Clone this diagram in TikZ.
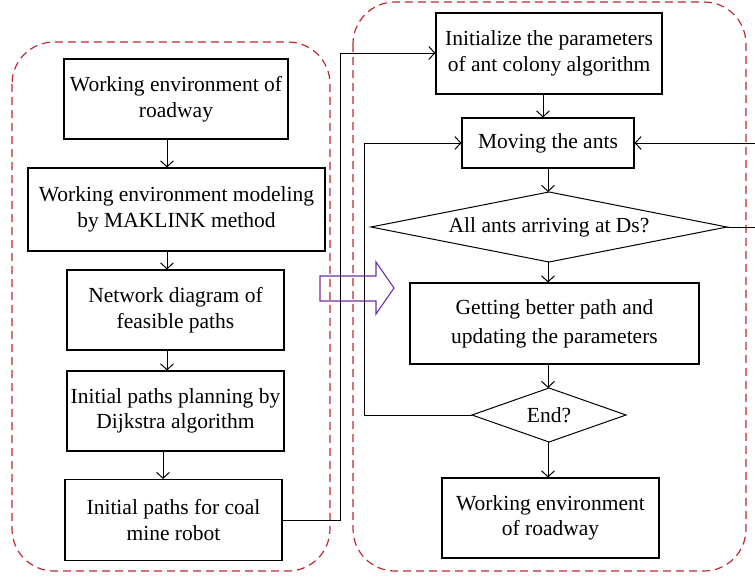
\documentclass[tikz,border=0pt]{standalone}
\usepackage{fontspec}
\setmainfont{Liberation Serif}
\usetikzlibrary{arrows.meta,shapes.geometric}
\definecolor{dashred}{RGB}{190,40,50}
\definecolor{arrpurple}{RGB}{112,48,160}
\begin{document}
\begin{tikzpicture}[x=1pt,y=-1pt,
  box/.style={draw, line width=1.1pt, align=center, inner sep=0pt, font=\fontsize{21.5}{25.5}\selectfont},
  txt/.style={inner sep=0pt, font=\fontsize{21.5}{25.5}\selectfont},
  arr/.style={line width=1pt, -{Straight Barb[length=6pt,width=13pt,line width=1pt]}},
  group/.style={draw=dashred, line width=1.2pt, dash pattern=on 8pt off 5pt, rounded corners=42pt}]
\useasboundingbox (0,0) rectangle (755,576);
\clip (0,0) rectangle (755,576);
% groups
\draw[group] (12,42) rectangle (330,571);
\draw[group] (353,2) rectangle (746,571);
% left nodes
\node[box, minimum width=224pt, minimum height=80pt] (L1) at (176,99) {Working environment of\\roadway};
\node[box, minimum width=297pt, minimum height=83pt] (L2) at (176.5,209.5) {Working environment modeling\\by MAKLINK method};
\node[box, minimum width=217pt, minimum height=80pt] (L3) at (175.5,310) {Network diagram of\\feasible paths};
\node[box, minimum width=217pt, minimum height=80pt] (L4) at (175.5,411) {Initial paths planning by\\Dijkstra algorithm};
\node[box, minimum width=217pt, minimum height=81pt] (L5) at (173.5,520) {Initial paths for coal\\mine robot};
% right nodes
\node[box, minimum width=226pt, minimum height=81pt] (R1) at (549,53.5) {Initialize the parameters\\of ant colony algorithm};
\node[box, minimum width=172pt, minimum height=50pt] (R2) at (548,143) {Moving the ants};
\node[txt] (D1) at (549,227) {All ants arriving at Ds?};
\node[box, minimum width=289pt, minimum height=81pt, font=\fontsize{21.5}{29}\selectfont] (R3) at (554.5,323.5) {Getting better path and\\updating the parameters};
\node[txt] (D2) at (549,415) {End?};
\node[box, minimum width=217pt, minimum height=80pt] (R4) at (550.5,518) {Working environment\\of roadway};
% diamond outlines
\coordinate (D1w) at (371,227); \coordinate (D1e) at (727,227);
\coordinate (D1n) at (549,192); \coordinate (D1s) at (549,262);
\coordinate (D2w) at (472,415); \coordinate (D2e) at (626,415);
\coordinate (D2n) at (549,388); \coordinate (D2s) at (549,442);
\draw[line width=1pt] (D1w) -- (D1n) -- (D1e) -- (D1s) -- cycle;
\draw[line width=1pt] (D2w) -- (D2n) -- (D2e) -- (D2s) -- cycle;
% left arrows
\coordinate (lx) at (167,0);
\coordinate (lx2) at (163,0);
\draw[arr] (L1.south -| lx) -- (L2.north -| lx);
\draw[arr] (L2.south -| lx) -- (L3.north -| lx);
\draw[arr] (L3.south -| lx) -- (L4.north -| lx);
\draw[arr] (L4.south -| lx2) -- (L5.north -| lx2);
% right arrows
\coordinate (rx) at (543,0);
\coordinate (rx2) at (548,0);
\draw[arr] (R1.south -| rx) -- (R2.north -| rx);
\draw[arr] (R2.south -| rx2) -- (D1n -| rx2);
\draw[arr] (D1s -| rx2) -- (R3.north -| rx2);
\draw[arr] (R3.south -| rx2) -- (D2n -| rx2);
\draw[arr] (D2s -| rx2) -- (R4.north -| rx2);
% connectors
\coordinate (c1) at (340,520);
\coordinate (c2) at (340,53);
\draw[arr] (L5.east) -- (c1) -- (c2) -- (c2 -| R1.west);
\coordinate (c3) at (364,415);
\coordinate (c4) at (364,143);
\draw[arr] (D2w) -- (c3) -- (c4) -- (R2.west);
\coordinate (c5) at (775,227);
\coordinate (c6) at (775,143);
\draw[arr] (D1e) -- (c5) -- (c6) -- (R2.east);
% big purple arrow
\draw[arrpurple, line width=1.1pt] (320,276) -- (376,276) -- (376,262) -- (394,288) -- (376,314) -- (376,301) -- (320,301) -- cycle;
\end{tikzpicture}
\end{document}
